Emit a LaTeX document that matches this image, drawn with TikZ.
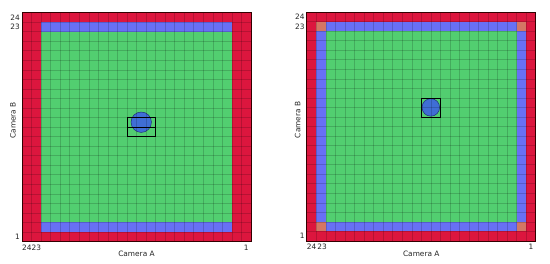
\documentclass[tikz,border=0pt]{standalone}
\usepackage{fontspec}
\setmainfont{DejaVu Sans}
\definecolor{cred}{RGB}{220,22,62}
\definecolor{cblue}{RGB}{104,112,244}
\definecolor{cgreen}{RGB}{82,206,112}
\definecolor{corange}{RGB}{212,118,100}
\definecolor{ccirc}{RGB}{62,102,222}
\definecolor{ccircb}{RGB}{30,45,120}
\begin{document}
\begin{tikzpicture}[x=1pt,y=-1pt,
  lab/.style={font=\fontsize{7.4}{8}\selectfont, inner sep=0pt, text=black!85},
  gridl/.style={draw=black, draw opacity=0.17, line width=0.45pt},
  border/.style={draw=black!80!red, line width=0.8pt},
  target/.style={fill=ccirc, draw=ccircb, line width=0.5pt, fill opacity=0.92},
  roi/.style={draw=black, line width=0.6pt}]
\useasboundingbox[fill=white] (0,0) rectangle (550,263);
\def\c{9.54}
% ---------- left panel ----------
\begin{scope}[shift={(22,12.5)}]
  \fill[cred] (0,0) rectangle ({24*\c},{24*\c});
  \fill[cblue] ({2*\c},{1*\c}) rectangle ({22*\c},{23*\c});
  \fill[cgreen] ({2*\c},{2*\c}) rectangle ({22*\c},{22*\c});
  \path[target] ({12.5*\c},{11.5*\c}) circle (10.2);
  \foreach \k in {1,...,23} {
    \path[gridl] ({\k*\c},0) -- ({\k*\c},{24*\c});
    \path[gridl] (0,{\k*\c}) -- ({24*\c},{\k*\c});
  }
  \draw[roi] ({11*\c},{11*\c}) rectangle ({14*\c},{13*\c});
  \draw[roi] ({11*\c},{12*\c}) -- ({14*\c},{12*\c});
  \path[border] (0,0) rectangle ({24*\c},{24*\c});
  \node[lab, anchor=east] (l24) at (-2,{0.5*\c}) {24};
  \node[lab, anchor=east] (l23) at (-2,{1.5*\c}) {23};
  \node[lab, anchor=east] (l1) at (-2,{23.5*\c}) {1};
  \node[lab, anchor=north] (b24) at ({0.5*\c},{24*\c+3}) {24};
  \node[lab, anchor=north] (b23) at ({1.5*\c},{24*\c+3}) {23};
  \node[lab, anchor=north] (b1) at ({23.5*\c},{24*\c+3}) {1};
  \node[lab] (camA1) at ({12*\c},{24*\c+12.5}) {Camera A};
  \node[lab, rotate=90] (camB1) at (-9,{11.3*\c}) {Camera B};
\end{scope}
% ---------- right panel ----------
\begin{scope}[shift={(306.8,12)}]
  \fill[cred] (0,0) rectangle ({24*\c},{24*\c});
  \fill[cblue] ({1*\c},{1*\c}) rectangle ({23*\c},{23*\c});
  \fill[cgreen] ({2*\c},{2*\c}) rectangle ({22*\c},{22*\c});
  \foreach \i/\j in {1/1,22/1,1/22,22/22}
    \fill[corange] ({\i*\c},{\j*\c}) rectangle ({(\i+1)*\c},{(\j+1)*\c});
  \path[target] ({13*\c},{10*\c}) circle (8.8);
  \foreach \k in {1,...,23} {
    \path[gridl] ({\k*\c},0) -- ({\k*\c},{24*\c});
    \path[gridl] (0,{\k*\c}) -- ({24*\c},{\k*\c});
  }
  \draw[roi] ({12*\c},{9*\c}) rectangle ({14*\c},{11*\c});
  \path[border] (0,0) rectangle ({24*\c},{24*\c});
  \node[lab, anchor=east] (r24) at (-2,{0.5*\c}) {24};
  \node[lab, anchor=east] (r23) at (-2,{1.5*\c}) {23};
  \node[lab, anchor=east] (r1) at (-2,{23.5*\c}) {1};
  \node[lab, anchor=north] (rb24) at ({0.5*\c},{24*\c+3}) {24};
  \node[lab, anchor=north] (rb23) at ({1.6*\c},{24*\c+3}) {23};
  \node[lab, anchor=north] (rb1) at ({23.5*\c},{24*\c+3}) {1};
  \node[lab] (camA2) at ({12*\c},{24*\c+12.5}) {Camera A};
  \node[lab, rotate=90] (camB2) at (-9,{11.3*\c}) {Camera B};
\end{scope}
\end{tikzpicture}
\end{document}
